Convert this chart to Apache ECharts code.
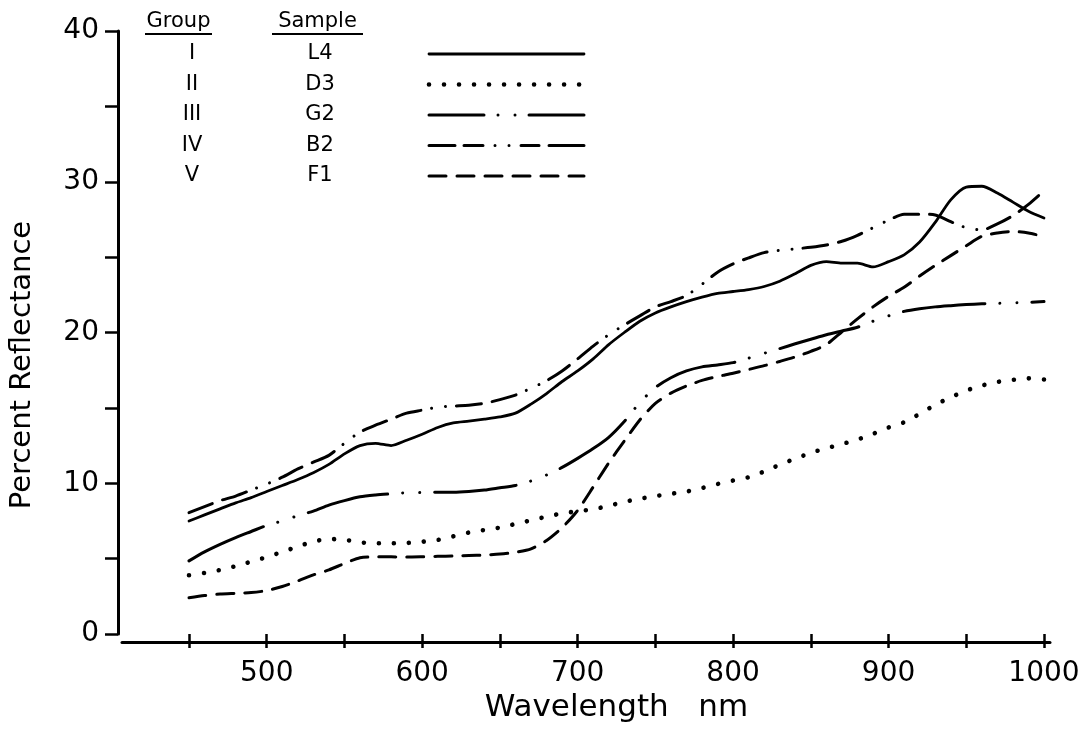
<!DOCTYPE html>
<html>
<head>
<meta charset="utf-8">
<script src="https://cdn.jsdelivr.net/npm/echarts@6/dist/echarts.min.js"></script>
<style>
html,body{margin:0;padding:0;background:#fff;}
#chart{width:1086px;height:745px;}
</style>
</head>
<body>
<div id="chart"></div>
<script>
// ---- data ----
const wavelengths = [450,460,470,480,490,500,510,520,530,540,550,560,570,580,590,600,610,620,630,640,650,660,670,680,690,700,710,720,730,740,750,760,770,780,790,800,810,820,830,840,850,860,870,880,890,900,910,920,930,940,950,960,970,980,990,1000];
const groups  = ['I','II','III','IV','V'];
const samples = ['L4','D3','G2','B2','F1'];
const L4 = [7.5,7.9,8.3,8.7,9.05,9.45,9.85,10.25,10.7,11.25,11.95,12.5,12.65,12.5,12.85,13.25,13.7,14.0,14.12,14.25,14.4,14.65,15.25,15.95,16.75,17.45,18.25,19.2,20.0,20.75,21.3,21.7,22.05,22.35,22.6,22.72,22.85,23.05,23.4,23.9,24.45,24.7,24.6,24.6,24.35,24.7,25.15,26.0,27.3,28.8,29.65,29.7,29.25,28.65,28.05,27.6];
const D3 = [3.9,4.05,4.25,4.5,4.8,5.1,5.45,5.8,6.13,6.3,6.25,6.08,6.02,6.02,6.04,6.12,6.24,6.48,6.73,6.9,7.06,7.3,7.54,7.78,8.0,8.14,8.28,8.5,8.77,8.97,9.15,9.3,9.45,9.68,9.95,10.18,10.4,10.78,11.23,11.63,12.02,12.32,12.6,12.9,13.27,13.7,14.05,14.6,15.2,15.7,16.15,16.48,16.72,16.86,16.96,16.88];
const G2 = [4.85,5.45,5.95,6.4,6.8,7.2,7.5,7.85,8.15,8.55,8.85,9.1,9.22,9.3,9.37,9.38,9.4,9.4,9.45,9.55,9.7,9.85,10.15,10.55,11.05,11.65,12.3,13.05,14.1,15.35,16.35,17.0,17.45,17.72,17.85,18.0,18.3,18.62,18.93,19.25,19.55,19.85,20.1,20.35,20.75,21.1,21.4,21.58,21.7,21.78,21.85,21.9,21.93,21.97,22.0,22.05];
const B2 = [8.05,8.45,8.85,9.15,9.55,9.95,10.4,10.95,11.4,11.85,12.65,13.4,13.85,14.25,14.65,14.85,15.05,15.12,15.17,15.3,15.55,15.85,16.3,16.8,17.45,18.25,19.1,19.85,20.5,21.1,21.7,22.05,22.45,23.2,24.0,24.55,24.95,25.3,25.45,25.55,25.65,25.8,26.05,26.45,26.95,27.45,27.85,27.85,27.8,27.35,26.95,26.8,27.2,27.75,28.5,29.4];
const F1 = [2.4,2.55,2.65,2.7,2.75,2.88,3.15,3.52,3.92,4.25,4.68,5.06,5.12,5.12,5.1,5.12,5.15,5.18,5.2,5.24,5.3,5.42,5.65,6.2,7.05,8.2,9.75,11.35,12.8,14.2,15.3,15.98,16.45,16.82,17.08,17.3,17.55,17.8,18.08,18.38,18.75,19.2,20.05,20.9,21.7,22.4,23.0,23.75,24.45,25.1,25.75,26.38,26.6,26.7,26.6,26.36];
const xTickLabels = [500,600,700,800,900,1000];
const yTickLabels = [0,10,20,30,40];

// ---- styles ----
const FONT = 'DejaVu Sans';
const INK = '#000';
const seriesValues = [L4, D3, G2, B2, F1];
const plotDash = [
  'solid',
  [0.01, 15],
  [82, 15, 0.01, 17, 0.01, 15],
  [25, 11, 25, 11, 0.01, 14, 0.01, 11],
  [17, 11]
];
const legendDash = [
  'solid',
  [0.01, 15],
  [55, 14, 0.01, 17, 0.01, 14, 60, 0],
  [26, 9, 19, 12, 0.01, 14, 0.01, 12, 18, 10, 30, 0],
  [17, 11]
];
const widths = [2.8, 4.6, 3, 3, 3];

const series = samples.map((s, k) => ({
  name: s,
  type: 'line',
  xAxisIndex: 0,
  yAxisIndex: 0,
  color: INK,
  data: wavelengths.map((w, i) => [w, seriesValues[k][i]]),
  symbol: 'none',
  showSymbol: false,
  smooth: 0.25,
  silent: true,
  itemStyle: { color: INK },
  lineStyle: { color: INK, width: widths[k], type: plotDash[k], cap: 'round', join: 'round' }
}));

const chart = echarts.init(document.getElementById('chart'), null, { renderer: 'canvas' });
chart.setOption({
  animation: false,
  backgroundColor: '#fff',
  grid: [
    { left: 189, right: 42, top: 31, bottom: 111 },
    { left: 122, right: 36, top: 31, bottom: 103 }
  ],
  xAxis: [
    {
      gridIndex: 0, type: 'value', min: 450, max: 1000, interval: 50, offset: 8,
      axisLine: { show: false },
      axisTick: { show: true, inside: false, length: 14, lineStyle: { color: INK, width: 2.5 } },
      axisLabel: {
        color: INK, fontFamily: FONT, fontSize: 28, margin: 18,
        formatter: v => (xTickLabels.indexOf(v) >= 0 ? String(v) : '')
      },
      splitLine: { show: false },
      name: 'Wavelength   nm', nameLocation: 'middle', nameGap: 40,
      nameTextStyle: { color: INK, fontFamily: FONT, fontSize: 31 }
    },
    {
      gridIndex: 1, type: 'value', min: 0, max: 1,
      axisLine: { show: true, lineStyle: { color: INK, width: 3 } },
      axisTick: { show: false }, axisLabel: { show: false }, splitLine: { show: false }
    }
  ],
  yAxis: [
    {
      gridIndex: 0, type: 'value', min: 0, max: 40, interval: 5, position: 'left', offset: 71,
      axisLine: { show: true, lineStyle: { color: INK, width: 3 } },
      axisTick: { show: true, inside: false, length: 13, lineStyle: { color: INK, width: 2.5 } },
      axisLabel: {
        color: INK, fontFamily: FONT, fontSize: 28, margin: 19,
        formatter: v => (yTickLabels.indexOf(v) >= 0 ? String(v) : '')
      },
      splitLine: { show: false }
    },
    { gridIndex: 1, type: 'value', show: false, min: 0, max: 1 }
  ],
  legend: {
    orient: 'vertical', left: 104, top: 43, align: 'right',
    itemWidth: 155, itemHeight: 14, itemGap: 8.5, padding: 0,
    selectedMode: false,
    itemStyle: { opacity: 0 },
    formatter: name => '{g|' + groups[samples.indexOf(name)] + '}{s|' + name + '}{b| }',
    textStyle: {
      color: INK, fontFamily: FONT, fontSize: 21, lineHeight: 22,
      rich: {
        g: { width: 176, align: 'center', fontFamily: FONT, fontSize: 21, color: INK },
        s: { width: 80, align: 'center', fontFamily: FONT, fontSize: 21, color: INK },
        b: { width: 64, fontFamily: FONT, fontSize: 21 }
      }
    },
    data: samples.map((s, k) => ({
      name: s,
      itemStyle: { opacity: 0, color: 'rgba(0,0,0,0)', borderWidth: 0 },
      lineStyle: { color: INK, width: widths[k], type: legendDash[k], cap: 'round' }
    }))
  },
  graphic: [
    { type: 'text', x: 178.5, y: 22, style: { text: 'Group', align: 'center', verticalAlign: 'middle', fill: INK, font: '21px "DejaVu Sans"' } },
    { type: 'text', x: 317.5, y: 22, style: { text: 'Sample', align: 'center', verticalAlign: 'middle', fill: INK, font: '21px "DejaVu Sans"' } },
    { type: 'line', shape: { x1: 145, y1: 34, x2: 212, y2: 34 }, style: { stroke: INK, lineWidth: 2.2 } },
    { type: 'line', shape: { x1: 272, y1: 34, x2: 363, y2: 34 }, style: { stroke: INK, lineWidth: 2.2 } },
    { type: 'text', x: 22, y: 365, rotation: Math.PI / 2,
      style: { text: 'Percent Reflectance', align: 'center', verticalAlign: 'middle', fill: INK, font: '29px "DejaVu Sans"' } }
  ],
  series: series
});
</script>
</body>
</html>
